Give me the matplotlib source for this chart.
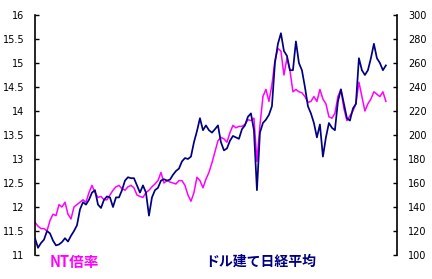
import numpy as np
import matplotlib
matplotlib.use("Agg")
import matplotlib.pyplot as plt

# NT倍率 (left axis)
nt_ratio = [11.68, 11.60, 11.55, 11.55, 11.50, 11.72, 11.85, 11.82, 12.05, 12.00,
            12.10, 11.85, 11.75, 12.00, 12.05, 12.10, 12.15, 12.10, 12.30, 12.45,
            12.30, 12.20, 12.22, 12.15, 12.15, 12.25, 12.35, 12.42, 12.45, 12.38,
            12.35, 12.42, 12.45, 12.40, 12.25, 12.22, 12.20, 12.30, 12.35, 12.42,
            12.48, 12.55, 12.72, 12.50, 12.55, 12.52, 12.50, 12.48, 12.55, 12.55,
            12.45, 12.25, 12.12, 12.30, 12.62, 12.55, 12.40, 12.58, 12.72, 12.92,
            13.15, 13.38, 13.45, 13.42, 13.35, 13.55, 13.70, 13.65, 13.68, 13.68,
            13.72, 13.82, 13.80, 13.85, 12.95, 13.70, 14.30, 14.45, 14.20, 14.55,
            15.05, 15.30, 15.25, 14.75, 15.10, 14.85, 14.40, 14.45, 14.40, 14.38,
            14.30, 14.18, 14.20, 14.30, 14.20, 14.45, 14.25, 14.15, 13.88, 13.85,
            13.95, 14.30, 14.45, 14.05, 13.80, 13.90, 14.00, 14.15, 14.60, 14.30,
            14.00, 14.15, 14.25, 14.40, 14.35, 14.30, 14.40, 14.20]

# ドル建て日経平均 (right axis)
usd_nikkei = [114, 106, 110, 112.8, 120, 118, 112, 108, 108.8, 110.8,
              114, 111.2, 116, 120, 124.8, 138, 144, 142, 146, 152,
              154, 142, 139.2, 146, 148.8, 148, 140, 148, 148, 154,
              162, 164.8, 164, 164, 158, 152, 158, 152, 132.8, 148,
              154, 156, 162, 163.2, 162, 162.8, 166.8, 170, 172, 178,
              180.8, 180, 182, 194, 203.2, 214, 204, 208, 204, 202,
              204.8, 208, 194, 187.2, 188.8, 195.2, 199.2, 198, 196.8, 204.8,
              208, 215.2, 218, 204, 154, 202, 210, 212.8, 216.8, 224,
              260, 276, 284.8, 270, 266, 254, 254, 278, 260, 254,
              240, 224, 218, 210, 198, 208.8, 182, 198, 210, 206,
              204, 228, 238, 226, 214, 212, 222, 226, 264, 254,
              250, 254, 264, 276, 264, 260, 254, 258]

left_ticks = [11, 11.5, 12, 12.5, 13, 13.5, 14, 14.5, 15, 15.5, 16]
right_ticks = [100, 120, 140, 160, 180, 200, 220, 240, 260, 280, 300]

t = np.arange(len(nt_ratio))

fig = plt.figure(figsize=(4.32, 2.79), dpi=100)
ax = fig.add_axes([35 / 432, 1 - 255 / 279, 362 / 432, 240 / 279])
ax2 = ax.twinx()

ax.plot(t, nt_ratio, color="#FF00FF", linewidth=1.1)
ax2.plot(t, usd_nikkei, color="#000080", linewidth=1.25)

ax.set_xlim(0, 120.7)
ax.set_ylim(11, 16)
ax2.set_ylim(100, 300)
ax.set_yticks(left_ticks)
ax.set_yticklabels([f"{v:g}" for v in left_ticks])
ax2.set_yticks(right_ticks)
ax.set_xticks([])

for a in (ax, ax2):
    for s in ("top", "bottom"):
        a.spines[s].set_visible(False)
    a.patch.set_visible(False)
ax.spines["right"].set_visible(False)
ax2.spines["left"].set_visible(False)
ax.spines["left"].set_linewidth(1.2)
ax2.spines["right"].set_linewidth(1.2)
ax.tick_params(axis="y", direction="in", length=3, width=1, pad=7.5, labelsize=7)
ax2.tick_params(axis="y", direction="in", length=3, width=1, pad=8, labelsize=7)

cjk = ["Noto Sans CJK JP", "DejaVu Sans"]
fig.text(50 / 432, 1 - 262 / 279, "NT倍率", color="#FF00FF", fontsize=10.5,
         fontweight="bold", family=cjk, va="center", ha="left")
fig.text(205 / 432, 1 - 262 / 279, "ドル建て日経平均", color="#000080", fontsize=10,
         fontweight="bold", family=cjk, va="center", ha="left")

fig.savefig("out.png", dpi=100)
